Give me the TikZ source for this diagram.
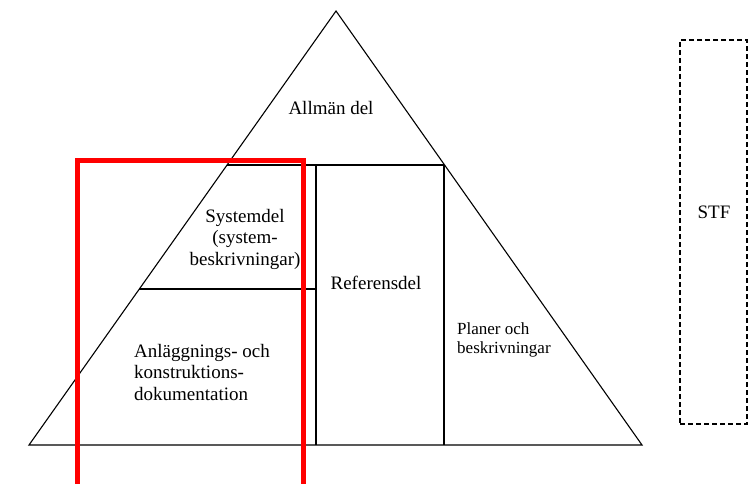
\documentclass[tikz,border=0pt]{standalone}
\usepackage{fontspec}
\setmainfont{Liberation Serif}
\begin{document}
\begin{tikzpicture}[x=1pt,y=-1pt,
  edge/.style={line width=1.1pt,black},
  redbox/.style={line width=5pt,red,line join=miter},
  stfbox/.style={line width=1.1pt,dashed,dash pattern=on 5pt off 3pt},
  lbl/.style={inner sep=0pt,font=\fontsize{19}{21.5}\selectfont},
  small/.style={inner sep=0pt,font=\fontsize{17}{19}\selectfont}]
\useasboundingbox (0,0) rectangle (749,484);
% triangle
\coordinate (apex) at (336,11);
\coordinate (bl) at (29,445);
\coordinate (br) at (642,445);
\draw[edge] (bl) -- (apex) -- (br) -- cycle;
% inner lines
\coordinate (h1l) at (227,165);
\coordinate (h1r) at (444,165);
\draw[edge] (h1l) -- (h1r);
\coordinate (v1t) at (316,165);
\coordinate (v1b) at (316,445);
\draw[edge] (v1t) -- (v1b);
\coordinate (v2b) at (444,445);
\draw[edge] (h1r) -- (v2b);
\coordinate (h2l) at (139,289);
\coordinate (h2r) at (316,289);
\draw[edge] (h2l) -- (h2r);
% red box
\coordinate (r1) at (77,486);
\coordinate (r2) at (77,160);
\coordinate (r3) at (303,160);
\coordinate (r4) at (303,486);
\draw[redbox] (r1) -- (r2) -- (r3) -- (r4);
% STF
\node[stfbox,draw,minimum width=67pt,minimum height=384pt,inner sep=0pt] (stf) at (713.5,232) {};
\node[lbl] (stft) at (714,212) {STF};
% labels
\node[lbl] (allm) at (331,108) {Allmän del};
\node[lbl,align=center] (sys) at (245,239) {Systemdel\\(system-\\beskrivningar)};
\node[lbl] (ref) at (376,283) {Referensdel};
\node[small,align=left,anchor=west] (plan) at (457,340) {Planer och\\beskrivningar};
\node[lbl,align=left,anchor=west] (anl) at (134,372) {Anläggnings- och\\konstruktions-\\dokumentation};
\end{tikzpicture}
\end{document}
